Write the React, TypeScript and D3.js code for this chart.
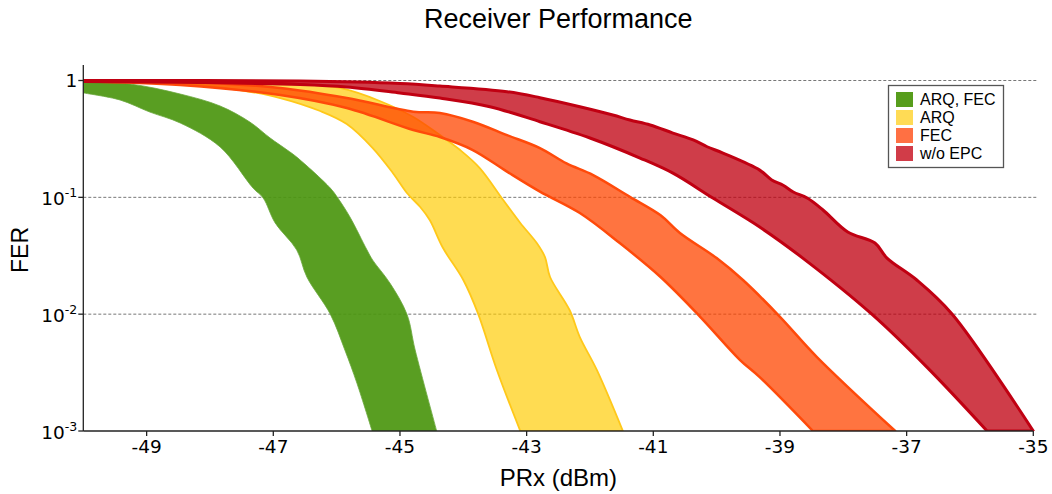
import React from "react";
import * as d3 from "d3";

// ---- data: [PRx dBm, FER] along the two boundary curves of each band ----
const arqFecLower: [number, number][] = [
  [-50, 0.782], [-49.42, 0.681], [-48.95, 0.537], [-48.47, 0.433], [-47.84, 0.27], [-47.32, 0.12],
  [-47.16, 0.0986], [-46.97, 0.0603], [-46.63, 0.0354], [-46.47, 0.0208], [-46.1, 0.01],
  [-45.87, 0.00493], [-45.68, 0.00257], [-45.44, 0.001],
];
const arqFecUpper: [number, number][] = [
  [-50, 0.98], [-49.26, 0.933], [-48.47, 0.766], [-47.84, 0.605], [-47.37, 0.441], [-47.05, 0.322],
  [-46.78, 0.254], [-46.63, 0.221], [-46.1, 0.12], [-45.98, 0.0986], [-45.79, 0.0679],
  [-45.52, 0.0354], [-45.43, 0.029], [-45.16, 0.0185], [-44.89, 0.01], [-44.76, 0.00493],
  [-44.42, 0.001],
];
const arqLower: [number, number][] = [
  [-50, 0.99], [-48.47, 0.952], [-47.53, 0.829], [-46.89, 0.708], [-46.26, 0.548], [-45.84, 0.424],
  [-45.43, 0.264], [-45.11, 0.161], [-44.89, 0.109], [-44.68, 0.0826], [-44.53, 0.0639],
  [-44.32, 0.0368], [-44.0, 0.0196], [-43.77, 0.0102], [-43.47, 0.00333], [-43.1, 0.001],
];
const arqUpper: [number, number][] = [
  [-50, 0.996], [-47.37, 0.971], [-46.58, 0.933], [-45.95, 0.863], [-45.32, 0.668], [-44.79, 0.487],
  [-44.37, 0.341], [-44.05, 0.254], [-43.74, 0.178], [-43.37, 0.0948], [-43.1, 0.0603],
  [-42.84, 0.0406], [-42.71, 0.0308], [-42.63, 0.0208], [-42.32, 0.0108], [-42.16, 0.00637],
  [-41.89, 0.00332], [-41.48, 0.001],
];
const fecLower: [number, number][] = [
  [-50, 0.98], [-48.47, 0.915], [-46.89, 0.751], [-45.84, 0.581], [-44.79, 0.377], [-44.37, 0.328],
  [-43.85, 0.254], [-43.31, 0.166], [-42.79, 0.112], [-42.16, 0.0734], [-41.53, 0.0406],
  [-40.89, 0.0209], [-40.26, 0.0095], [-39.63, 0.00405], [-39.32, 0.00289], [-38.48, 0.001],
];
const fecUpper: [number, number][] = [
  [-50, 0.996], [-48.47, 0.977], [-46.89, 0.863], [-45.84, 0.708], [-44.79, 0.541], [-44.37, 0.527],
  [-43.85, 0.444], [-43.31, 0.341], [-42.79, 0.264], [-42.37, 0.195], [-41.95, 0.155],
  [-41.37, 0.101], [-40.89, 0.0705], [-40.58, 0.0495], [-40.0, 0.0302], [-39.58, 0.0195],
  [-39.0, 0.0095], [-38.42, 0.00432], [-37.18, 0.001],
];
const woEpcLower: [number, number][] = [
  [-50, 0.98], [-48.16, 0.961], [-46.58, 0.924], [-45.84, 0.88], [-45.0, 0.782], [-44.37, 0.708],
  [-43.58, 0.597], [-42.79, 0.444], [-42.0, 0.322], [-41.21, 0.217], [-40.69, 0.161],
  [-40.06, 0.0986], [-39.32, 0.0557], [-38.64, 0.0302], [-37.55, 0.01], [-36.68, 0.00352],
  [-35.73, 0.001],
];
const woEpcUpper: [number, number][] = [
  [-50, 1.0], [-46.58, 0.99], [-45.0, 0.943], [-44.37, 0.897], [-43.31, 0.802], [-42.79, 0.713],
  [-42.16, 0.597], [-41.64, 0.507], [-41.37, 0.459], [-41.05, 0.416], [-40.69, 0.355],
  [-40.37, 0.31], [-40.15, 0.271], [-39.9, 0.239], [-39.32, 0.171], [-39.13, 0.141],
  [-38.95, 0.127], [-38.79, 0.111], [-38.57, 0.0986], [-38.32, 0.0779], [-37.93, 0.0505],
  [-37.5, 0.0406], [-37.31, 0.0302], [-36.84, 0.0196], [-36.28, 0.01], [-35.0, 0.001],
];

const seriesNames = ["ARQ, FEC", "ARQ", "FEC", "w/o EPC"];
const xTicks = [-49, -47, -45, -43, -41, -39, -37, -35];
const yTicks = [1, 0.1, 0.01, 0.001];
const yTickExp = ["", "-1", "-2", "-3"];
const gridValues = [1, 0.1, 0.01];

const bands = [
  { name: seriesNames[0], lower: arqFecLower, upper: arqFecUpper, fill: "#4b960f", fillOpacity: 0.92, stroke: "#6aa83c", strokeWidth: 1, strokeOpacity: 0.8, swatch: "#579d1c" },
  { name: seriesNames[1], lower: arqLower, upper: arqUpper, fill: "#ffcc00", fillOpacity: 0.68, stroke: "#ffc81a", strokeWidth: 1.8, strokeOpacity: 1, swatch: "#ffdb55" },
  { name: seriesNames[2], lower: fecLower, upper: fecUpper, fill: "#ff4500", fillOpacity: 0.75, stroke: "#ff4a0a", strokeWidth: 2.5, strokeOpacity: 1, swatch: "#ff7043" },
  { name: seriesNames[3], lower: woEpcLower, upper: woEpcUpper, fill: "#c00010", fillOpacity: 0.76, stroke: "#c00012", strokeWidth: 3, strokeOpacity: 1, swatch: "#d13c48" },
];

const W = 1052;
const H = 494;
const left = 83.3;
const right = 1033.3;
const bottom = 431;
const topFER = 80.5;
const axisTop = 65;

export default function App() {
  const x = d3.scaleLinear().domain([-50, -35]).range([left, right]);
  const y = d3.scaleLog().domain([1e-3, 1]).range([bottom, topFER]);
  const line = d3
    .line<[number, number]>()
    .x((d) => x(d[0]))
    .y((d) => y(d[1]))
    .curve(d3.curveCatmullRom.alpha(0.5));

  const bandPath = (lower: [number, number][], upper: [number, number][]) => {
    const a = line(lower)!;
    const b = line(upper.slice().reverse())!;
    return a + "L" + b.slice(1) + "Z";
  };

  const sans = "Liberation Sans, Arial, sans-serif";
  const dejavu = "DejaVu Sans, sans-serif";

  return (
    <svg width={W} height={H} style={{ position: "absolute", left: 0, top: 0, background: "#fff" }}>
      <defs>
        <clipPath id="plotclip">
          <rect x={left} y={axisTop} width={right - left + 4} height={bottom - axisTop} />
        </clipPath>
      </defs>
      <rect x={0} y={0} width={W} height={H} fill="#fff" />
      <text x={(left + right) / 2} y={28} textAnchor="middle" fontFamily={sans} fontSize={27} fill="#000">
        Receiver Performance
      </text>

      {gridValues.map((v) => (
        <line key={v} x1={left} x2={right + 3} y1={y(v)} y2={y(v)} stroke="#777" strokeWidth={1} strokeDasharray="3,2" />
      ))}

      <g clipPath="url(#plotclip)">
        {bands.map((b) => (
          <path
            key={b.name}
            d={bandPath(b.lower, b.upper)}
            fill={b.fill}
            fillOpacity={b.fillOpacity}
            stroke={b.stroke}
            strokeWidth={b.strokeWidth}
            strokeOpacity={b.strokeOpacity}
            strokeLinejoin="round"
          />
        ))}
      </g>

      {/* axes */}
      <line x1={left} x2={left} y1={axisTop} y2={bottom} stroke="#222" strokeWidth={1.3} />
      <line x1={left} x2={right} y1={bottom} y2={bottom} stroke="#222" strokeWidth={1.3} />
      {xTicks.map((t) => (
        <g key={t}>
          <line x1={x(t)} x2={x(t)} y1={bottom} y2={bottom + 5} stroke="#222" strokeWidth={1.3} />
          <text x={x(t)} y={bottom + 22} textAnchor="middle" fontFamily={dejavu} fontSize={18.5} fill="#000">
            {t}
          </text>
        </g>
      ))}
      {yTicks.map((t, i) => (
        <g key={t}>
          <line x1={left - 5} x2={left} y1={y(t)} y2={y(t)} stroke="#222" strokeWidth={1.3} />
          {yTickExp[i] === "" ? (
            <text x={left - 6} y={y(t) + 6} textAnchor="end" fontFamily={dejavu} fontSize={18.5} fill="#000">
              1
            </text>
          ) : (
            <text x={left - 6} y={y(t) + 8} textAnchor="end" fontFamily={dejavu} fontSize={18.5} fill="#000">
              10
              <tspan fontSize={12.5} dy={-8}>
                {yTickExp[i]}
              </tspan>
            </text>
          )}
        </g>
      ))}

      <text x={(left + right) / 2} y={486} textAnchor="middle" fontFamily={sans} fontSize={24} fill="#000">
        PRx (dBm)
      </text>
      <text
        transform={`translate(28, ${(axisTop + bottom) / 2 + 2}) rotate(-90)`}
        textAnchor="middle"
        fontFamily={sans}
        fontSize={23}
        fill="#000"
      >
        FER
      </text>

      {/* legend */}
      <rect x={888.5} y={85.5} width={115} height={82} fill="#fff" stroke="#555" strokeWidth={1.3} />
      {bands.map((b, i) => (
        <g key={b.name}>
          <rect x={896} y={92 + i * 18} width={17} height={15} fill={b.swatch} />
          <text x={920} y={105 + i * 18} fontFamily={sans} fontSize={16} fill="#000">
            {b.name}
          </text>
        </g>
      ))}
    </svg>
  );
}
